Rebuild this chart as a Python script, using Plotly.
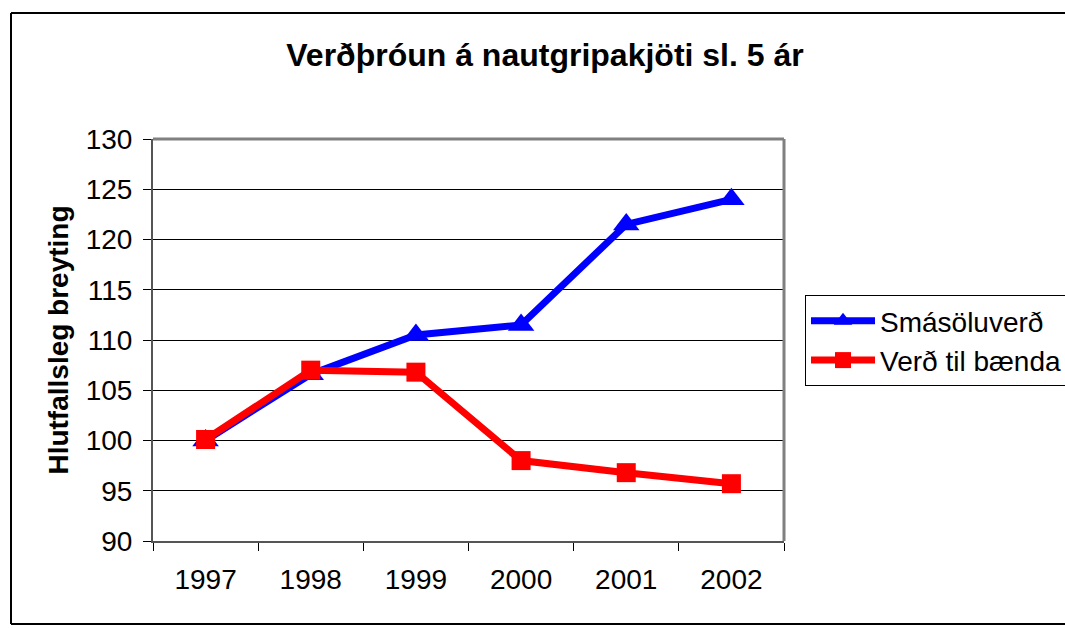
import plotly.graph_objects as go

years = ["1997", "1998", "1999", "2000", "2001", "2002"]
smasoluverd = [100.0, 106.6, 110.5, 111.5, 121.5, 124.0]
verd_til_baenda = [100.1, 107.0, 106.8, 98.0, 96.8, 95.7]
y_ticks = [90, 95, 100, 105, 110, 115, 120, 125, 130]

W, H = 1065, 628
L, R, T, B = 153, 784, 139, 541

fig = go.Figure()
fig.add_trace(go.Scatter(
    x=years, y=smasoluverd, name="Smásöluverð", mode="lines+markers",
    line=dict(color="#0000FF", width=7),
    marker=dict(symbol="triangle-up", size=23, color="#0000FF"),
))
fig.add_trace(go.Scatter(
    x=years, y=verd_til_baenda, name="Verð til bænda", mode="lines+markers",
    line=dict(color="#FF0000", width=7),
    marker=dict(symbol="square", size=19, color="#FF0000"),
))

def px_x(p):
    return (p - L) / (R - L)

def px_y(p):
    return (B - p) / (B - T)

# outer chart frame (top, left, bottom; right side is off the picture)
frame = dict(color="#000000", width=2)
fig.add_shape(type="line", xref="paper", yref="paper",
              x0=px_x(11), x1=px_x(1070), y0=px_y(13), y1=px_y(13), line=frame, layer="below")
fig.add_shape(type="line", xref="paper", yref="paper",
              x0=px_x(11), x1=px_x(11), y0=px_y(13), y1=px_y(624), line=frame, layer="below")
fig.add_shape(type="line", xref="paper", yref="paper",
              x0=px_x(11), x1=px_x(1070), y0=px_y(624), y1=px_y(624), line=frame, layer="below")

fig.update_layout(
    width=W, height=H,
    margin=dict(l=L, r=W - R, t=T, b=H - B, pad=0, autoexpand=False),
    paper_bgcolor="white", plot_bgcolor="white",
    font=dict(family="Liberation Sans, Arial, sans-serif", color="black", size=28),
    title=dict(text="<b>Verðþróun á nautgripakjöti sl. 5 ár</b>",
               x=545 / W, xanchor="center", y=1 - 55 / H, yanchor="middle",
               font=dict(size=32)),
    showlegend=True,
    legend=dict(x=px_x(805), y=px_y(295), xanchor="left", yanchor="top",
                bordercolor="black", borderwidth=1, bgcolor="white",
                font=dict(size=28), tracegroupgap=0, itemwidth=64),
    xaxis=dict(type="category", tickson="boundaries", ticks="outside", ticklen=8,
               tickcolor="black", showgrid=False, showline=True, linecolor="#555555",
               linewidth=2, mirror=False, tickfont=dict(size=28),
               ticklabelstandoff=12, range=[-0.5, 5.5]),
    yaxis=dict(range=[90, 130], tickvals=y_ticks, ticks="outside", ticklen=8,
               tickcolor="black", showgrid=True, gridcolor="#000000", gridwidth=1,
               showline=True, linecolor="#555555", linewidth=2, zeroline=False,
               tickfont=dict(size=28), ticklabelstandoff=5,
               title=dict(text="<b>Hlutfallsleg breyting</b>", font=dict(size=28),
                          standoff=9)),
)

# top and right border of plot area (gray)
fig.add_shape(type="line", xref="paper", yref="paper", x0=0, x1=1, y0=1, y1=1,
              line=dict(color="#808080", width=3))
fig.add_shape(type="line", xref="paper", yref="paper", x0=1, x1=1, y0=0, y1=1,
              line=dict(color="#808080", width=3))

fig.write_html(
    "out.html",
    config={"displayModeBar": False},
    post_script="document.body.style.margin='0';document.body.style.overflow='hidden';",
)
